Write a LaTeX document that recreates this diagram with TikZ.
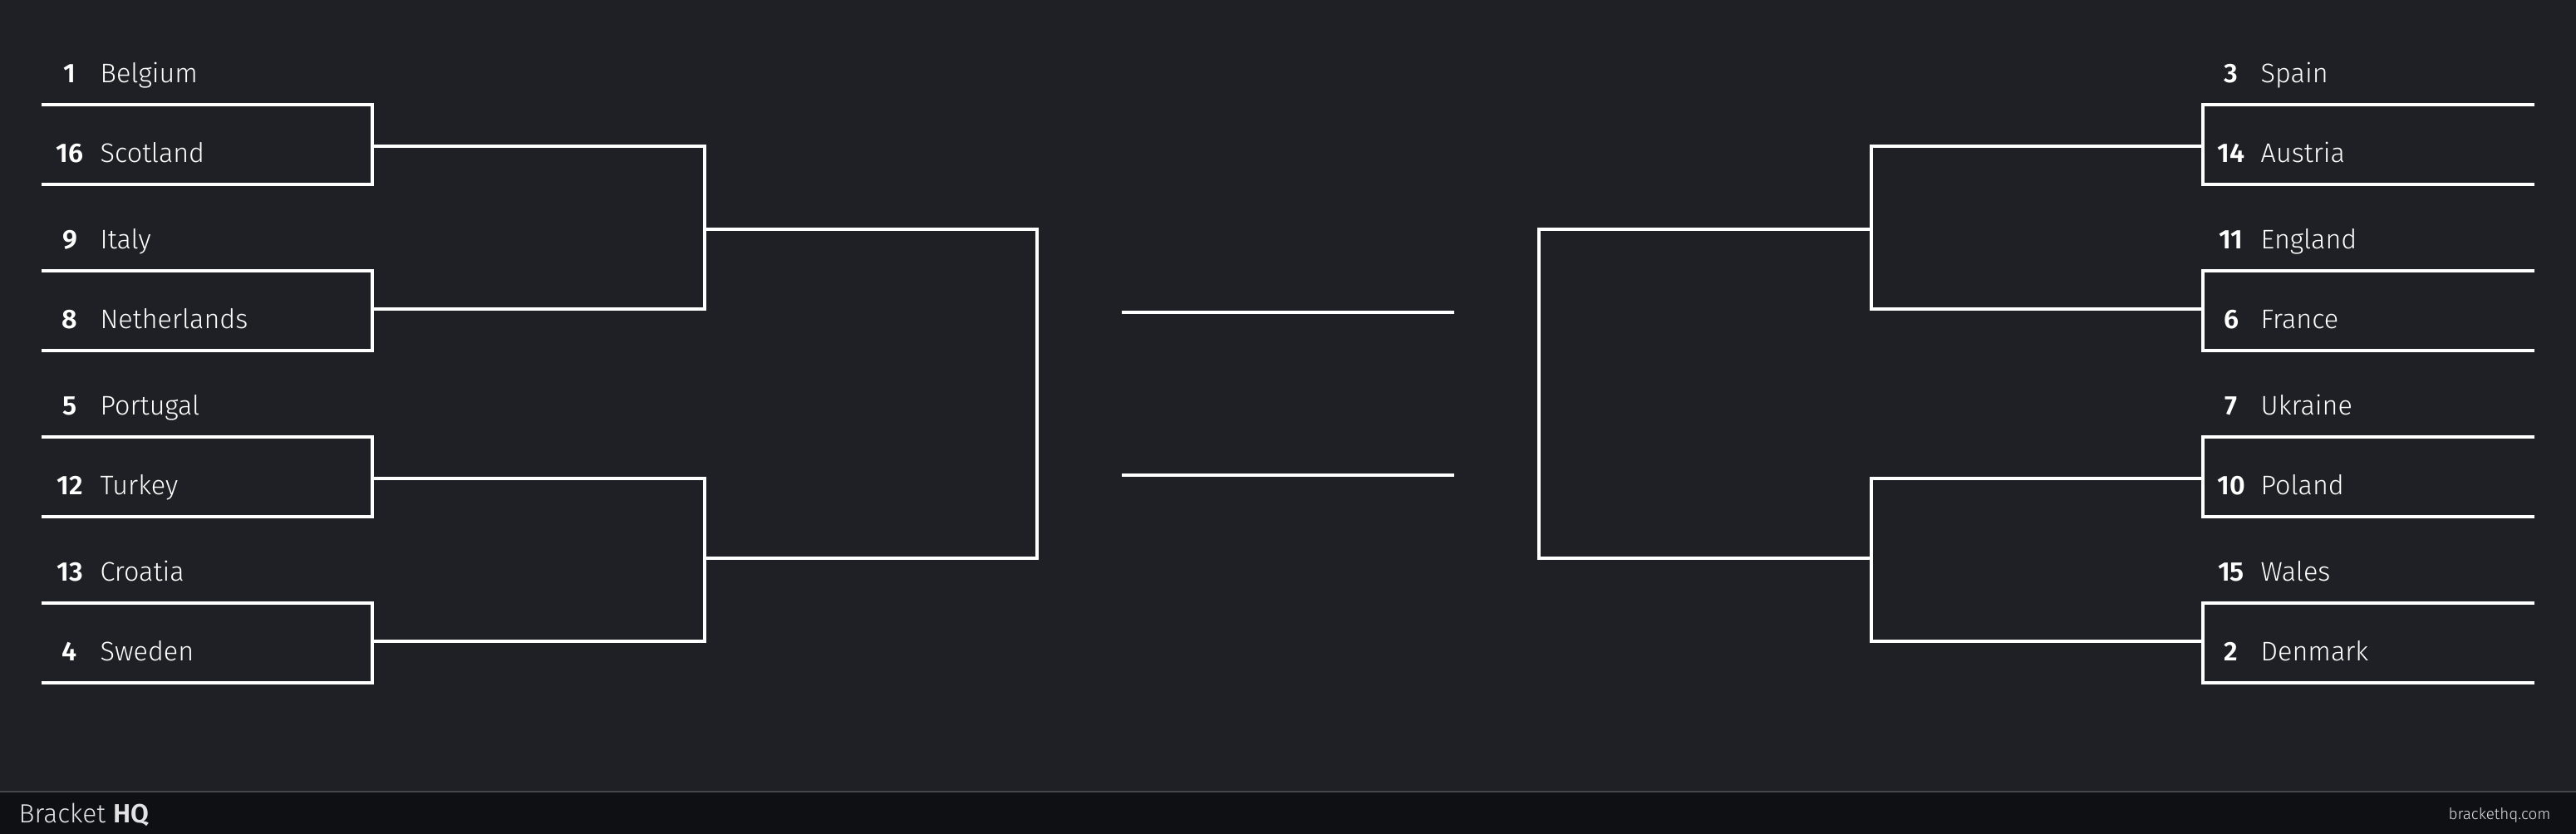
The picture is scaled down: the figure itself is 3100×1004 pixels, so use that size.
\documentclass[tikz,border=0pt]{standalone}
\usepackage{fontspec}
\setmainfont{Fira Sans Light}[BoldFont={Fira Sans SemiBold}]
\usetikzlibrary{positioning}
\definecolor{bgdark}{HTML}{1F2025}
\definecolor{footdark}{HTML}{0F1013}
\definecolor{footline}{HTML}{46474C}
\definecolor{footgrey}{HTML}{E2E2E4}

\begin{document}
\begin{tikzpicture}[x=0.01cm, y=-0.01cm,
    slot/.style={draw=white, line width=1.14pt},
    team/.style={anchor=base west, inner sep=0pt, text=white, font=\fontsize{9.2}{10}\selectfont},
    seed/.style={anchor=base, inner sep=0pt, text=white, font=\fontsize{9.2}{10}\selectfont\bfseries}]
    \fill[bgdark] (0,0) rectangle (3100,1004);
    \useasboundingbox (0,0) rectangle (3100,1004);

    % footer
    \fill[footdark] (0,953) rectangle (3100,1004);
    \draw[footline, line width=0.4pt] (0,953) -- (3100,953);
    \node[anchor=base west, inner sep=0pt, text=footgrey, font=\fontsize{9}{10}\selectfont] (brand) at (22,991) {Bracket \textbf{HQ}};
    \node[anchor=base east, inner sep=0pt, text=footgrey, font=\fontsize{5.35}{6}\selectfont] (site) at (3070,986) {brackethq.com};

    % left half
    \coordinate (L1) at (50,126);
    \coordinate (L2) at (50,222);
    \coordinate (L3) at (50,326);
    \coordinate (L4) at (50,422);
    \coordinate (L5) at (50,526);
    \coordinate (L6) at (50,622);
    \coordinate (L7) at (50,726);
    \coordinate (L8) at (50,822);
    \coordinate (LJ1) at (448,176);
    \coordinate (LJ2) at (448,372);
    \coordinate (LJ3) at (448,576);
    \coordinate (LJ4) at (448,772);
    \coordinate (LK1) at (848,276);
    \coordinate (LK2) at (848,672);
    \coordinate (LW) at (1248,474);

    \node[seed] (s1) at (84,100) {1};
    \node[team] (belgium) at (120,100) {Belgium};
    \node[seed] (s16) at (84,196) {16};
    \node[team] (scotland) at (120,196) {Scotland};
    \node[seed] (s9) at (84,300) {9};
    \node[team] (italy) at (120,300) {Italy};
    \node[seed] (s8) at (84,396) {8};
    \node[team] (netherlands) at (120,396) {Netherlands};
    \node[seed] (s5) at (84,500) {5};
    \node[team] (portugal) at (120,500) {Portugal};
    \node[seed] (s12) at (84,596) {12};
    \node[team] (turkey) at (120,596) {Turkey};
    \node[seed] (s13) at (84,700) {13};
    \node[team] (croatia) at (120,700) {Croatia};
    \node[seed] (s4) at (84,796) {4};
    \node[team] (sweden) at (120,796) {Sweden};

    \draw[slot] (L1) -| (LJ1) |- (L2);
    \draw[slot] (L3) -| (LJ2) |- (L4);
    \draw[slot] (L5) -| (LJ3) |- (L6);
    \draw[slot] (L7) -| (LJ4) |- (L8);
    \draw[slot] (LJ1) -| (LK1) |- (LJ2);
    \draw[slot] (LJ3) -| (LK2) |- (LJ4);
    \draw[slot] (LK1) -| (LW) |- (LK2);

    % final
    \coordinate (F1) at (1350,376);
    \coordinate (F2) at (1750,376);
    \coordinate (F3) at (1350,572);
    \coordinate (F4) at (1750,572);
    \draw[slot] (F1) -- (F2);
    \draw[slot] (F3) -- (F4);

    % right half
    \coordinate (R1) at (3050,126);
    \coordinate (R2) at (3050,222);
    \coordinate (R3) at (3050,326);
    \coordinate (R4) at (3050,422);
    \coordinate (R5) at (3050,526);
    \coordinate (R6) at (3050,622);
    \coordinate (R7) at (3050,726);
    \coordinate (R8) at (3050,822);
    \coordinate (RJ1) at (2651,176);
    \coordinate (RJ2) at (2651,372);
    \coordinate (RJ3) at (2651,576);
    \coordinate (RJ4) at (2651,772);
    \coordinate (RK1) at (2252,276);
    \coordinate (RK2) at (2252,672);
    \coordinate (RW) at (1852,474);

    \node[seed] (s3) at (2685,100) {3};
    \node[team] (spain) at (2720,100) {Spain};
    \node[seed] (s14) at (2685,196) {14};
    \node[team] (austria) at (2720,196) {Austria};
    \node[seed] (s11) at (2685,300) {11};
    \node[team] (england) at (2720,300) {England};
    \node[seed] (s6) at (2685,396) {6};
    \node[team] (france) at (2720,396) {France};
    \node[seed] (s7) at (2685,500) {7};
    \node[team] (ukraine) at (2720,500) {Ukraine};
    \node[seed] (s10) at (2685,596) {10};
    \node[team] (poland) at (2720,596) {Poland};
    \node[seed] (s15) at (2685,700) {15};
    \node[team] (wales) at (2720,700) {Wales};
    \node[seed] (s2) at (2685,796) {2};
    \node[team] (denmark) at (2720,796) {Denmark};

    \draw[slot] (R1) -| (RJ1) |- (R2);
    \draw[slot] (R3) -| (RJ2) |- (R4);
    \draw[slot] (R5) -| (RJ3) |- (R6);
    \draw[slot] (R7) -| (RJ4) |- (R8);
    \draw[slot] (RJ1) -| (RK1) |- (RJ2);
    \draw[slot] (RJ3) -| (RK2) |- (RJ4);
    \draw[slot] (RK1) -| (RW) |- (RK2);
\end{tikzpicture}
\end{document}
